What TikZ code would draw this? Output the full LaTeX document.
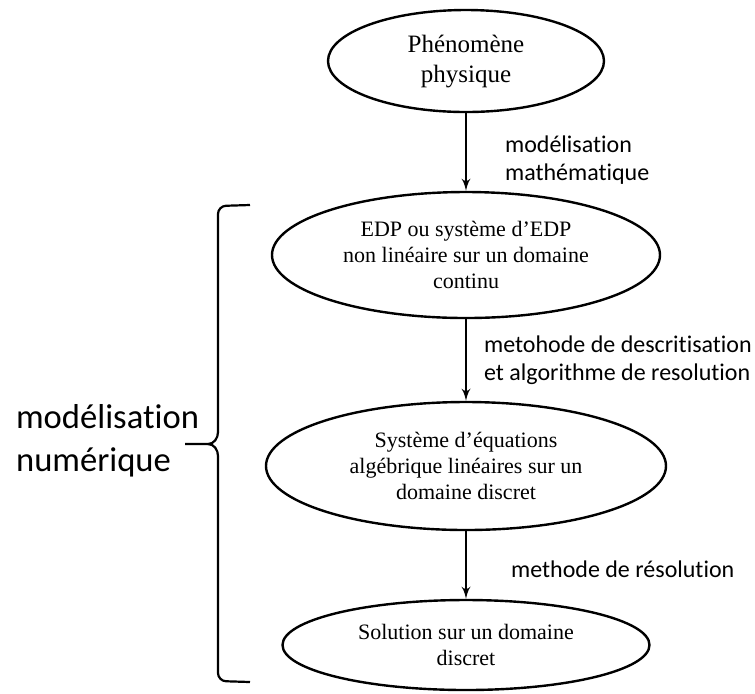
\documentclass[tikz,border=0pt]{standalone}
\usepackage{fontspec}
\setmainfont{Liberation Serif}
\newfontfamily\lblfont[Ligatures=NoCommon]{Carlito}
\usetikzlibrary{calc, arrows, shapes.geometric}
\tikzstyle{etape}=[draw, ellipse, line width=1.2pt, inner sep=0pt, align=center]
\tikzstyle{lbl}=[font=\lblfont\fontsize{12}{14}\selectfont, align=left, inner sep=0pt]

\begin{document}
\begin{tikzpicture}[x=0.5pt,y=-0.5pt,auto,>=latex',line width=1.1pt]
      \useasboundingbox (0,0) rectangle (755,693);
      \node [etape, minimum width=138pt, minimum height=51pt, font=\fontsize{12.5}{15}\selectfont] (phen) at (466,61) {Phénomène\\physique};
      \node [etape, minimum width=194pt, minimum height=63pt, font=\fontsize{11}{13}\selectfont] (edp) [below of=phen, node distance=97pt] {EDP ou système d'EDP\\non linéaire sur un domaine\\continu};
      \node [etape, minimum width=200pt, minimum height=64pt, font=\fontsize{11}{13.2}\selectfont] (sys) [below of=edp, node distance=105.5pt] {Système d'équations\\algébrique linéaires sur un\\domaine discret};
      \node [etape, minimum width=183.5pt, minimum height=45pt, font=\fontsize{11}{13}\selectfont] (sol) [below of=sys, node distance=89.5pt] {Solution sur un domaine\\discret};
      \path[->] (phen) edge node [lbl, xshift=19pt, yshift=-4pt] {modélisation\\mathématique} (edp);
      \path[->] (edp) edge node [lbl, xshift=8.5pt] {metohode de descritisation\\et algorithme de resolution} (sys);
      \path[->] (sys) edge node [lbl, xshift=22pt, yshift=-2pt] {methode de résolution} (sol);
      % accolade
      \draw[rounded corners=4pt] (250,205) -- (218,206) -- (218,432);
      \draw (218,432) to[out=-90,in=0] (208,444) -- (185,444);
      \draw (208,444) to[out=0,in=90] (218,456);
      \draw[rounded corners=4pt] (218,456) -- (218,681) -- (250,682);
      \node [anchor=west, align=left, inner sep=0pt, font=\lblfont\fontsize{17.3}{21.5}\selectfont] (num) at (15,441) {modélisation\\numérique};
\end{tikzpicture}
\end{document}
